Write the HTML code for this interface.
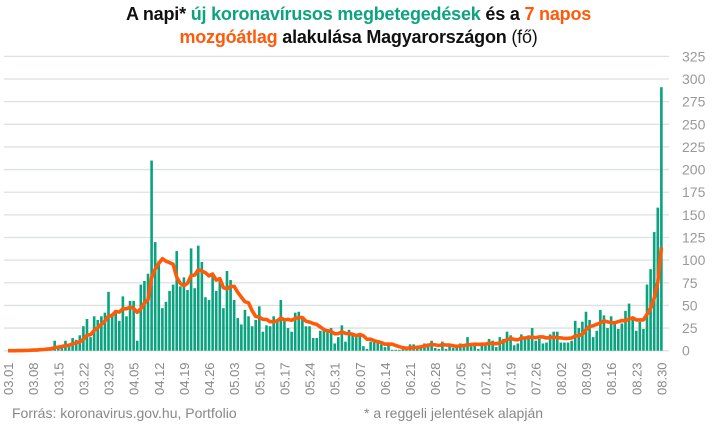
<!DOCTYPE html>
<html><head><meta charset="utf-8"><style>
body{margin:0;background:#fff;width:717px;height:425px;overflow:hidden;font-family:"Liberation Sans",sans-serif}
.t{position:absolute;left:0;width:717px;text-align:center;font-weight:bold;font-size:18px;color:#111;letter-spacing:-0.2px}
.g{color:#0ea37f}.o{color:#ff5a0a}
</style></head><body>
<div class="t" style="top:4px">A napi* <span class="g">új koronavírusos megbetegedések</span> és a <span class="o">7 napos</span></div>
<div class="t" style="top:27px"><span class="o">mozgóátlag</span> alakulása Magyarországon <span style="font-weight:normal">(fő)</span></div>
<svg id="s" width="717" height="425" style="position:absolute;left:0;top:0"></svg>
<script>
var d=[0,0,0,1,0,1,1,2,0,3,2,3,4,11,4,5,11,4,14,12,17,27,35,15,38,34,38,42,65,41,45,33,60,38,55,55,11,73,77,85,210,120,99,47,54,66,73,110,71,81,67,113,69,116,98,59,56,82,66,80,47,88,78,56,36,29,45,38,27,34,49,21,28,27,38,34,56,34,25,21,42,43,36,27,27,14,14,22,24,24,25,8,15,28,10,23,18,15,16,5,2,10,11,11,7,4,6,1,1,1,3,3,7,7,4,4,8,8,11,3,2,10,2,7,3,6,8,4,15,5,9,2,7,8,13,11,4,15,13,21,17,6,8,18,15,17,25,11,13,8,9,18,21,21,9,9,9,11,33,25,32,43,34,15,22,45,39,25,38,32,24,30,44,52,34,22,32,24,73,90,131,158,291];
var y0=350.7,k=22.64/25,x0=8,p=3.59,s='';
for(var v=0;v<=325;v+=25){var y=y0-v*k;s+='<line x1="4" x2="669" y1="'+y+'" y2="'+y+'" stroke="#dbe2e0" stroke-width="1.3"/>';
s+='<text x="682" y="'+(y+5)+'" font-size="14" fill="#999">'+v+'</text>';}
for(var i=0;i<d.length;i++){var x=x0+p*i;s+='<rect x="'+(x-1.3)+'" y="'+(y0-d[i]*k)+'" width="2.6" height="'+(d[i]*k)+'" fill="#0aa37f"/>';}
var pts=[];for(i=0;i<d.length;i++){var a=0;for(var j=Math.max(0,i-6);j<=i;j++){a+=d[j];}pts.push((x0+p*i).toFixed(1)+','+(y0-a/7*k).toFixed(1));}
s+='<polyline points="'+pts.join(' ')+'" fill="none" stroke="#ff5a0a" stroke-width="3.6" stroke-linejoin="round"/>';
var m=[31,30,31,30,31,31],mo=3,dd=1;
for(i=0;i<=182;i++){if(i%7==0){var x=x0+p*i,l=('0'+mo).slice(-2)+'.'+('0'+dd).slice(-2);
s+='<text transform="translate('+(x+5)+',395) rotate(-90)" font-size="13" fill="#888">'+l+'</text>';}
dd++;if(dd>m[mo-3]){dd=1;mo++;}}
s+='<text x="12" y="418" font-size="14" fill="#888">Forrás: koronavirus.gov.hu, Portfolio</text>';
s+='<text x="364" y="418" font-size="14" fill="#888">* a reggeli jelentések alapján</text>';
document.getElementById('s').innerHTML=s;
</script>
</body></html>
